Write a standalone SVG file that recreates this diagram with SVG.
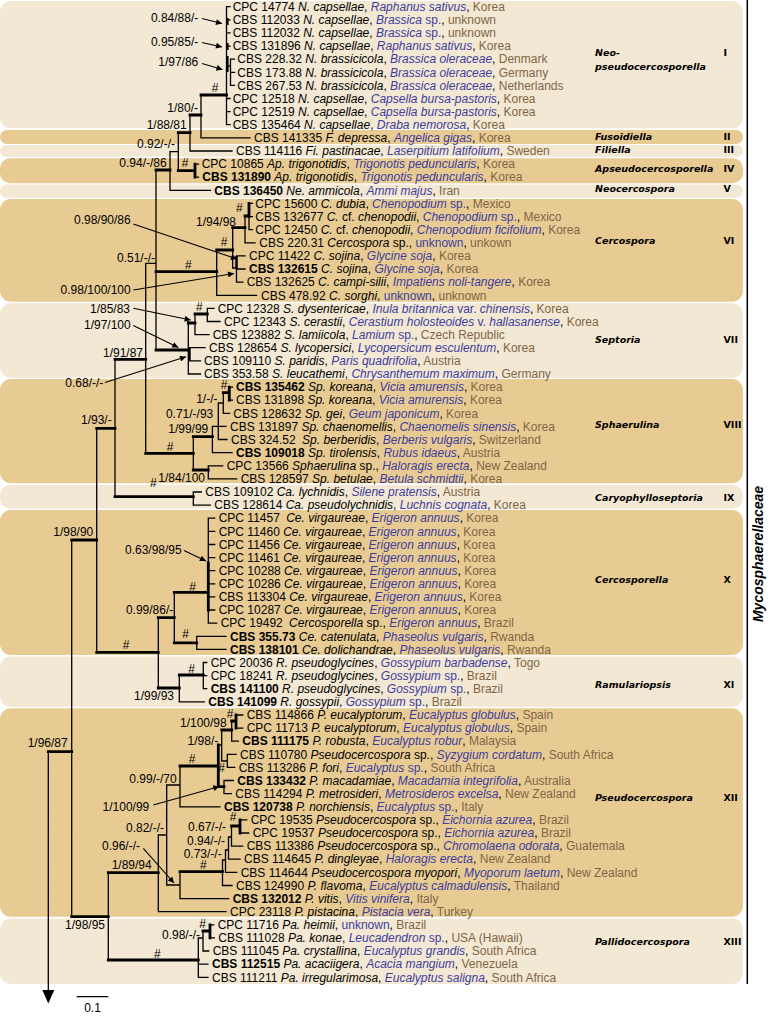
<svg xmlns="http://www.w3.org/2000/svg" width="773" height="1017" viewBox="0 0 773 1017">
<defs>
<style>
.tx{font-family:"Liberation Sans",Arial,sans-serif;font-size:12px;fill:#000}
.i{font-style:italic}
.h{font-style:italic;fill:#3d3d9f}
.hu{fill:#3d3d9f}
.c{fill:#7f6646}
.b{font-weight:bold}
.sp{font-family:"Liberation Sans",Arial,sans-serif;font-size:12px;text-anchor:end;fill:#000}
.hs{text-anchor:middle}
.cl{font-family:"DejaVu Sans",Verdana,sans-serif;font-size:9.5px;font-weight:bold;font-style:italic;fill:#000}
.rn{font-family:"DejaVu Sans",Verdana,sans-serif;font-size:9.5px;font-weight:bold;fill:#000}
.tn{fill:none;stroke:#000;stroke-width:1.3;stroke-linecap:square}
.tk{fill:none;stroke:#000;stroke-width:2.8;stroke-linecap:square}
.ar{fill:none;stroke:#000;stroke-width:1.1;marker-end:url(#ah)}
.lt{fill:#f3e8d3}
.dk{fill:#e8cb93}
</style>
<marker id="ah" viewBox="0 0 10 10" refX="10" refY="5" markerWidth="8" markerHeight="6" markerUnits="userSpaceOnUse" orient="auto"><path d="M0,0 L10,5 L0,10 z" fill="#000"/></marker>
</defs>
<rect width="773" height="1017" fill="#fff"/>
<g id="bands">
<g id="clade-I"><rect class="lt" x="0" y="1" width="743" height="127.3" rx="11"/><text class="cl" x="595" y="56">Neo-</text><text class="cl" x="595" y="70">pseudocercosporella</text><text class="rn" x="723.5" y="56">I</text></g>
<g id="clade-II"><rect class="dk" x="0" y="130" width="743" height="14" rx="7"/><text class="cl" x="595" y="139.5">Fusoidiella</text><text class="rn" x="723.5" y="139.5">II</text></g>
<g id="clade-III"><rect class="lt" x="0" y="145" width="743" height="11.7" rx="5.8"/><text class="cl" x="595" y="152.8">Filiella</text><text class="rn" x="723.5" y="152.8">III</text></g>
<g id="clade-IV"><rect class="dk" x="0" y="158.3" width="743" height="25" rx="10"/><text class="cl" x="595" y="171.8">Apseudocercosporella</text><text class="rn" x="723.5" y="171.8">IV</text></g>
<g id="clade-V"><rect class="lt" x="0" y="184.6" width="743" height="13.2" rx="6.6"/><text class="cl" x="595" y="191.8">Neocercospora</text><text class="rn" x="723.5" y="191.8">V</text></g>
<g id="clade-VI"><rect class="dk" x="0" y="199" width="743" height="102.7" rx="11"/><text class="cl" x="595" y="244.2">Cercospora</text><text class="rn" x="723.5" y="244.2">VI</text></g>
<g id="clade-VII"><rect class="lt" x="0" y="303.3" width="743" height="74.4" rx="11"/><text class="cl" x="595" y="342.8">Septoria</text><text class="rn" x="723.5" y="342.8">VII</text></g>
<g id="clade-VIII"><rect class="dk" x="0" y="379" width="743" height="104.3" rx="11"/><text class="cl" x="595" y="427.5">Sphaerulina</text><text class="rn" x="723.5" y="427.5">VIII</text></g>
<g id="clade-IX"><rect class="lt" x="0" y="485" width="743" height="23.5" rx="10"/><text class="cl" x="595" y="501.2">Caryophylloseptoria</text><text class="rn" x="723.5" y="501.2">IX</text></g>
<g id="clade-X"><rect class="dk" x="0" y="510" width="743" height="145" rx="11"/><text class="cl" x="595" y="582.8">Cercosporella</text><text class="rn" x="723.5" y="582.8">X</text></g>
<g id="clade-XI"><rect class="lt" x="0" y="656.5" width="743" height="50.2" rx="11"/><text class="cl" x="595" y="687.5">Ramulariopsis</text><text class="rn" x="723.5" y="687.5">XI</text></g>
<g id="clade-XII"><rect class="dk" x="0" y="708.3" width="743" height="208.4" rx="11"/><text class="cl" x="595" y="800.8">Pseudocercospora</text><text class="rn" x="723.5" y="800.8">XII</text></g>
<g id="clade-XIII"><rect class="lt" x="0" y="918.5" width="743" height="65.5" rx="11"/><text class="cl" x="595" y="944.5">Pallidocercospora</text><text class="rn" x="723.5" y="944.5">XIII</text></g>
</g>
<g id="family">
<path d="M747.3 0 V984" fill="none" stroke="#000" stroke-width="1.5"/>
<text transform="translate(763,554) rotate(-90)" text-anchor="middle" style="font-family:'Liberation Sans',Arial,sans-serif;font-size:14px;font-weight:bold;font-style:italic">Mycosphaerellaceae</text>
</g>
<g id="connectors">
<path class="tn" d="M226.5 6.7 V124.7 M226.5 6.7 H230 M226.5 19.8 H230 M226.5 32.9 H230 M226.5 46.1 H230 M226.5 98.5 H230 M226.5 111.6 H230 M226.5 124.7 H230 M226.5 66 H230.5 M230.5 59.2 V85.4 M230.5 59.2 H234.5 M230.5 72.3 H234.5 M230.5 85.4 H234.5
M201 137.9 H250 M201 95 V137.9 M190 115 V151 M190 151 H232 M178.3 132.7 V170.6 M170 151.7 V190.3 M170 151.7 H178.3 M170 190.3 H210.5 M195 164.1 H198.5 M195 177.2 H198.5
M156 170 V350 M145.7 263.3 V453.3 M145.7 263.3 H156 M115 359.3 V496.7 M96.7 428.3 V652.3 M71.7 540 V916.7 M48.3 751.7 V991
M216.7 250 V295.3 M216.7 295.3 H256.5 M232.7 227.7 V268 M232.7 268 H236.5 M236.5 255.9 V282.1 M236.5 255.9 H245 M236.5 269 H245 M236.5 282.1 H243 M245 216 V242.8 M245 242.8 H255 M249 203.4 V229.7 M249 203.4 H252.5 M249 216.6 H252.5 M249 229.7 H252.5
M188.3 321.7 V374 M195 314 V334.6 M195 334.6 H209 M207.3 308.4 V321.5 M207.3 308.4 H214 M207.3 321.5 H220 M188.3 347.7 H205 M188.3 360.8 H200.5 M188.3 374 H200.5
M193.3 436.7 V470 M212.4 426.4 V452.6 M212.4 452.6 H232 M218.3 403 V439.5 M212.4 426.4 H226 M218.3 439.5 H227 M223.3 392.7 V413.3 M218.3 403 H223.3 M223.3 413.3 H229.5 M229.3 387.1 H232.5 M229.3 400.2 H232.5 M208.3 465.8 V478.9 M208.3 465.8 H222.7 M208.3 478.9 H236.7
M193.3 492 V505.1 M193.3 492 H201.3 M193.3 505.1 H210.3
M158.3 617.7 V688 M174.3 592.3 V642.9 M208.3 518.2 V623.2 M208.3 518.2 H214.7 M208.3 531.3 H214.7 M208.3 544.5 H214.7 M208.3 557.6 H214.7 M208.3 570.7 H214.7 M208.3 583.8 H214.7 M208.3 596.9 H214.7 M208.3 610 H214.7 M208.3 623.2 H216.7 M196.7 636.3 V649.4 M196.7 636.3 H226 M196.7 649.4 H226
M179.3 675 V701.8 M179.3 701.8 H204.3 M203.3 662.5 V688.7 M203.3 662.5 H206.7 M203.3 675.6 H206.7 M203.3 688.7 H206.7
M108.3 872.7 V960 M158.3 835 V911.7 M158.3 911.7 H226 M158.3 835 H166.7 M166.7 785 V885 M166.7 785 H180 M166.7 885 H180 M180 766 V806.8 M180 806.8 H220
M218.3 745 H221.7 M221.7 730 V761 M221.7 761 H227.3 M231.7 721 V741.2 M231.7 741.2 H238.3 M236 715 H242.7 M236 728.1 H242.7 M227.3 754.3 V767.4 M227.3 754.3 H236 M227.3 767.4 H234.7 M224 780.5 V793.7 M224 780.5 H233.3 M224 793.7 H231.3
M180 871.7 V898.6 M180 898.6 H228.7 M222.5 860 V885.5 M222.5 885.5 H232 M222.5 860 H225.5 M225.5 850 V872.4 M225.5 872.4 H236.7 M225.5 850 H228.5 M228.5 837 V859.2 M228.5 859.2 H240 M228.5 837 H231.5 M231.5 826 V846.1 M231.5 846.1 H242.7 M240 819.9 V833 M240 819.9 H246.7 M240 833 H248.7
M198.3 938 V977.3 M198.3 964.2 H208 M198.3 977.3 H208 M198.3 938 H203 M203 931 V951 M203 951 H208.7 M210 924.8 H213.7 M210 937.9 H214.3"/>
<path class="tk" d="M201 95 H226.5 M190 115 H201 M178.3 132.7 H190 M178.3 170.6 H195 M195 164.1 V177.2 M156 170 H170 M156 271.7 H216.7 M156 350 H188.3 M145.7 453.3 H193.3 M115 359.3 H145.7 M115 496.7 H193.3 M96.7 428.3 H115 M96.7 652.3 H158.3 M71.7 540 H96.7 M71.7 916.7 H108.3 M48.3 751.7 H71.7
M216.7 250 H232.7 M232.7 227.7 H245 M245 216 H249 M249 203.4 V216.6 M188.3 323 H195 M195 314 H207.3 M193.3 436.7 H212.4 M193.3 470 H208.3 M223.3 392.7 H229.3 M229.3 387.1 V400.2
M158.3 617.7 H174.3 M174.3 592.3 H208.3 M208.3 563 V610 M174.3 642.9 H196.7 M158.3 688 H179.3 M179.3 675 H203.3
M108.3 872.7 H158.3 M108.3 960 H198.3 M180 766 H218.3 M218.3 745 V786.7 M221.7 730 H231.7 M231.7 721 H236 M236 715 V728.1 M218.3 786.7 H224 M180 871.7 H222.5 M231.5 826 H240 M240 819.9 V833 M203 931 H210 M210 924.8 V937.9"/>
<path d="M227.4 18 V25 M227.4 43 V50 M227.4 56 V72 M236.5 255.9 V269 M189.5 347.7 V360.8" fill="none" stroke="#000" stroke-width="2.4"/>
<polygon points="42.3,990 54.3,990 48.3,1003.5" fill="#000"/>
<path d="M76.7 996.7 H108.3" fill="none" stroke="#000" stroke-width="1.3"/>
<path class="ar" d="M202 18.5 L222 23.5"/>
<path class="ar" d="M202 42.5 L222 47"/>
<path class="ar" d="M202 63.5 L222.5 69.5"/>
<path class="ar" d="M133.3 224 L237 259"/>
<path class="ar" d="M133.3 290 L234 273.5"/>
<path class="ar" d="M133.3 308.3 L190.7 320"/>
<path class="ar" d="M133.3 325.5 L178.3 347.5"/>
<path class="ar" d="M105 382.5 L186 356.7"/>
<path class="ar" d="M184 550.5 L206 561"/>
<path class="ar" d="M153.3 805 L219.3 786.5"/>
<path class="ar" d="M143.3 848.3 L174 883"/>
</g>
<g id="supports">
<text class="sp" x="198.3" y="21.5">0.84/88/-</text>
<text class="sp" x="198.3" y="45.5">0.95/85/-</text>
<text class="sp" x="198.3" y="66.2">1/97/86</text>
<text class="sp hs" x="215" y="91.5">#</text>
<text class="sp" x="198" y="111.9">1/80/-</text>
<text class="sp" x="186.7" y="129.2">1/88/81</text>
<text class="sp" x="175" y="148.2">0.92/-/-</text>
<text class="sp" x="166.7" y="166.9">0.94/-/86</text>
<text class="sp hs" x="185" y="166.9">#</text>
<text class="sp" x="236" y="225.9">1/94/98</text>
<text class="sp hs" x="239.3" y="211.9">#</text>
<text class="sp hs" x="224" y="245.9">#</text>
<text class="sp hs" x="188.3" y="269.2">#</text>
<text class="sp" x="130.7" y="224.2">0.98/90/86</text>
<text class="sp" x="155" y="261.9">0.51/-/-</text>
<text class="sp" x="130.7" y="294.2">0.98/100/100</text>
<text class="sp" x="130" y="312.5">1/85/83</text>
<text class="sp" x="130.7" y="328.5">1/97/100</text>
<text class="sp hs" x="199.3" y="310.9">#</text>
<text class="sp" x="143" y="356.5">1/91/87</text>
<text class="sp" x="103.3" y="386.9">0.68/-/-</text>
<text class="sp hs" x="224" y="389.2">#</text>
<text class="sp" x="217.5" y="402.5">1/-/-</text>
<text class="sp" x="213.3" y="418.2">0.71/-/93</text>
<text class="sp" x="208.3" y="432.5">1/99/99</text>
<text class="sp hs" x="170" y="450.9">#</text>
<text class="sp" x="205" y="481.9">1/84/100</text>
<text class="sp hs" x="153.3" y="486.9">#</text>
<text class="sp" x="111.7" y="424.2">1/93/-</text>
<text class="sp" x="93.3" y="535.9">1/98/90</text>
<text class="sp" x="181.7" y="553.5">0.63/98/95</text>
<text class="sp hs" x="192.7" y="590.9">#</text>
<text class="sp" x="173.3" y="613.5">0.99/86/-</text>
<text class="sp hs" x="185.7" y="638.2">#</text>
<text class="sp hs" x="126" y="649.2">#</text>
<text class="sp hs" x="191.7" y="672.5">#</text>
<text class="sp" x="174" y="700.2">1/99/93</text>
<text class="sp" x="67.7" y="746.9">1/96/87</text>
<text class="sp" x="226.7" y="726.9">1/100/98</text>
<text class="sp hs" x="230" y="717.5">#</text>
<text class="sp" x="218.3" y="744.9">1/98/-</text>
<text class="sp hs" x="192" y="763.2">#</text>
<text class="sp hs" x="221.7" y="771.5">#</text>
<text class="sp" x="176.7" y="783.2">0.99/-/70</text>
<text class="sp" x="149.3" y="810.9">1/100/99</text>
<text class="sp" x="164" y="831.5">0.82/-/-</text>
<text class="sp hs" x="233" y="820.5">#</text>
<text class="sp" x="226" y="830.9">0.67/-/-</text>
<text class="sp" x="225" y="845.2">0.94/-/-</text>
<text class="sp" x="140" y="849.9">0.96/-/-</text>
<text class="sp" x="221.7" y="857.7">0.73/-/-</text>
<text class="sp" x="151.7" y="869.2">1/89/94</text>
<text class="sp hs" x="203.3" y="869.2">#</text>
<text class="sp" x="105" y="929.2">1/98/95</text>
<text class="sp hs" x="157.3" y="957.5">#</text>
<text class="sp" x="200" y="939.2">0.98/-/-</text>
<text class="sp hs" x="202.7" y="927.5">#</text>
<text class="sp hs" x="92.5" y="1012">0.1</text>
</g>
<g id="taxa">
<g id="taxon-01"><text class="tx" x="232.7" y="10.9">CPC 14774 <tspan class="i">N. capsellae</tspan>, <tspan class="h">Raphanus sativus</tspan>, <tspan class="c">Korea</tspan></text></g>
<g id="taxon-02"><text class="tx" x="232.7" y="24">CBS 112033 <tspan class="i">N. capsellae</tspan>, <tspan class="h">Brassica</tspan><tspan class="hu"> sp.</tspan>, <tspan class="c">unknown</tspan></text></g>
<g id="taxon-03"><text class="tx" x="232.7" y="37.1">CBS 112032 <tspan class="i">N. capsellae</tspan>, <tspan class="h">Brassica</tspan><tspan class="hu"> sp.</tspan>, <tspan class="c">unknown</tspan></text></g>
<g id="taxon-04"><text class="tx" x="232.7" y="50.3">CBS 131896 <tspan class="i">N. capsellae</tspan>, <tspan class="h">Raphanus sativus</tspan>, <tspan class="c">Korea</tspan></text></g>
<g id="taxon-05"><text class="tx" x="237.3" y="63.4">CBS 228.32 <tspan class="i">N. brassicicola</tspan>, <tspan class="h">Brassica oleraceae</tspan>, <tspan class="c">Denmark</tspan></text></g>
<g id="taxon-06"><text class="tx" x="237.3" y="76.5">CBS 173.88 <tspan class="i">N. brassicicola</tspan>, <tspan class="h">Brassica oleraceae</tspan>, <tspan class="c">Germany</tspan></text></g>
<g id="taxon-07"><text class="tx" x="237.3" y="89.6">CBS 267.53 <tspan class="i">N. brassicicola</tspan>, <tspan class="h">Brassica oleraceae</tspan>, <tspan class="c">Netherlands</tspan></text></g>
<g id="taxon-08"><text class="tx" x="232.7" y="102.7">CPC 12518 <tspan class="i">N. capsellae</tspan>, <tspan class="h">Capsella bursa-pastoris</tspan>, <tspan class="c">Korea</tspan></text></g>
<g id="taxon-09"><text class="tx" x="232.7" y="115.8">CPC 12519 <tspan class="i">N. capsellae</tspan>, <tspan class="h">Capsella bursa-pastoris</tspan>, <tspan class="c">Korea</tspan></text></g>
<g id="taxon-10"><text class="tx" x="232.7" y="128.9">CBS 135464 <tspan class="i">N. capsellae</tspan>, <tspan class="h">Draba nemorosa</tspan>, <tspan class="c">Korea</tspan></text></g>
<g id="taxon-11"><text class="tx" x="254" y="142.1">CBS 141335 <tspan class="i">F. depressa</tspan>, <tspan class="h">Angelica gigas</tspan>, <tspan class="c">Korea</tspan></text></g>
<g id="taxon-12"><text class="tx" x="236" y="155.2">CBS 114116 <tspan class="i">Fi. pastinacae</tspan>, <tspan class="h">Laserpitium latifolium</tspan>, <tspan class="c">Sweden</tspan></text></g>
<g id="taxon-13"><text class="tx" x="201.7" y="168.3">CPC 10865 <tspan class="i">Ap. trigonotidis</tspan>, <tspan class="h">Trigonotis peduncularis</tspan>, <tspan class="c">Korea</tspan></text></g>
<g id="taxon-14"><text class="tx" x="202.3" y="181.4"><tspan class="b">CBS 131890</tspan> <tspan class="i">Ap. trigonotidis</tspan>, <tspan class="h">Trigonotis peduncularis</tspan>, <tspan class="c">Korea</tspan></text></g>
<g id="taxon-15"><text class="tx" x="214.3" y="194.5"><tspan class="b">CBS 136450</tspan> <tspan class="i">Ne. ammicola</tspan>, <tspan class="h">Ammi majus</tspan>, <tspan class="c">Iran</tspan></text></g>
<g id="taxon-16"><text class="tx" x="255.3" y="207.6">CPC 15600 <tspan class="i">C. dubia</tspan>, <tspan class="h">Chenopodium</tspan><tspan class="hu"> sp.</tspan>, <tspan class="c">Mexico</tspan></text></g>
<g id="taxon-17"><text class="tx" x="255.3" y="220.8">CBS 132677 <tspan class="i">C.</tspan> cf. <tspan class="i">chenopodii</tspan>, <tspan class="h">Chenopodium</tspan><tspan class="hu"> sp.</tspan>, <tspan class="c">Mexico</tspan></text></g>
<g id="taxon-18"><text class="tx" x="255.3" y="233.9">CPC 12450 <tspan class="i">C.</tspan> cf. <tspan class="i">chenopodii</tspan>, <tspan class="h">Chenopodium ficifolium</tspan>, <tspan class="c">Korea</tspan></text></g>
<g id="taxon-19"><text class="tx" x="259.3" y="247">CBS 220.31 <tspan class="i">Cercospora</tspan> sp., <tspan class="hu">unknown</tspan>, <tspan class="c">unkown</tspan></text></g>
<g id="taxon-20"><text class="tx" x="249" y="260.1">CPC 11422 <tspan class="i">C. sojina</tspan>, <tspan class="h">Glycine soja</tspan>, <tspan class="c">Korea</tspan></text></g>
<g id="taxon-21"><text class="tx" x="249" y="273.2"><tspan class="b">CBS 132615</tspan> <tspan class="i">C. sojina</tspan>, <tspan class="h">Glycine soja</tspan>, <tspan class="c">Korea</tspan></text></g>
<g id="taxon-22"><text class="tx" x="246.7" y="286.3">CBS 132625 <tspan class="i">C. campi-silii</tspan>, <tspan class="h">Impatiens noli-tangere</tspan>, <tspan class="c">Korea</tspan></text></g>
<g id="taxon-23"><text class="tx" x="261" y="299.5">CBS 478.92 <tspan class="i">C. sorghi</tspan>, <tspan class="hu">unknown</tspan>, <tspan class="c">unknown</tspan></text></g>
<g id="taxon-24"><text class="tx" x="217.7" y="312.6">CPC 12328 <tspan class="i">S. dysentericae</tspan>, <tspan class="h">Inula britannica</tspan><tspan class="hu"> var. </tspan><tspan class="h">chinensis</tspan>, <tspan class="c">Korea</tspan></text></g>
<g id="taxon-25"><text class="tx" x="224" y="325.7">CPC 12343 <tspan class="i">S. cerastii</tspan>, <tspan class="h">Cerastium holosteoides</tspan><tspan class="hu"> v. </tspan><tspan class="h">hallasanense</tspan>, <tspan class="c">Korea</tspan></text></g>
<g id="taxon-26"><text class="tx" x="212.7" y="338.8">CBS 123882 <tspan class="i">S. lamiicola</tspan>, <tspan class="h">Lamium</tspan><tspan class="hu"> sp.</tspan>, <tspan class="c">Czech Republic</tspan></text></g>
<g id="taxon-27"><text class="tx" x="209" y="351.9">CBS 128654 <tspan class="i">S. lycopersici</tspan>, <tspan class="h">Lycopersicum esculentum</tspan>, <tspan class="c">Korea</tspan></text></g>
<g id="taxon-28"><text class="tx" x="204" y="365">CBS 109110 <tspan class="i">S. paridis</tspan>, <tspan class="h">Paris quadrifolia</tspan>, <tspan class="c">Austria</tspan></text></g>
<g id="taxon-29"><text class="tx" x="204" y="378.2">CBS 353.58 <tspan class="i">S. leucathemi</tspan>, <tspan class="h">Chrysanthemum maximum</tspan>, <tspan class="c">Germany</tspan></text></g>
<g id="taxon-30"><text class="tx" x="236" y="391.3"><tspan class="b">CBS 135462</tspan> <tspan class="i">Sp. koreana</tspan>, <tspan class="h">Vicia amurensis</tspan>, <tspan class="c">Korea</tspan></text></g>
<g id="taxon-31"><text class="tx" x="236" y="404.4">CBS 131898 <tspan class="i">Sp. koreana</tspan>, <tspan class="h">Vicia amurensis</tspan>, <tspan class="c">Korea</tspan></text></g>
<g id="taxon-32"><text class="tx" x="233.3" y="417.5">CBS 128632 <tspan class="i">Sp. gei</tspan>, <tspan class="h">Geum japonicum</tspan>, <tspan class="c">Korea</tspan></text></g>
<g id="taxon-33"><text class="tx" x="230" y="430.6">CBS 131897 <tspan class="i">Sp. chaenomellis</tspan>, <tspan class="h">Chaenomelis sinensis</tspan>, <tspan class="c">Korea</tspan></text></g>
<g id="taxon-34"><text class="tx" x="231" y="443.7">CBS 324.52 <tspan class="i" dx="3">Sp. berberidis</tspan>, <tspan class="h">Berberis vulgaris</tspan>, <tspan class="c">Switzerland</tspan></text></g>
<g id="taxon-35"><text class="tx" x="236" y="456.8"><tspan class="b">CBS 109018</tspan> <tspan class="i">Sp. tirolensis</tspan>, <tspan class="h">Rubus idaeus</tspan>, <tspan class="c">Austria</tspan></text></g>
<g id="taxon-36"><text class="tx" x="226.7" y="470">CPC 13566 <tspan class="i">Sphaerulina</tspan> sp., <tspan class="h">Haloragis erecta</tspan>, <tspan class="c">New Zealand</tspan></text></g>
<g id="taxon-37"><text class="tx" x="240.7" y="483.1">CBS 128597 <tspan class="i">Sp. betulae</tspan>, <tspan class="h">Betula schmidtii</tspan>, <tspan class="c">Korea</tspan></text></g>
<g id="taxon-38"><text class="tx" x="205.3" y="496.2">CBS 109102 <tspan class="i">Ca. lychnidis</tspan>, <tspan class="h">Silene pratensis</tspan>, <tspan class="c">Austria</tspan></text></g>
<g id="taxon-39"><text class="tx" x="214.3" y="509.3">CBS 128614 <tspan class="i">Ca. pseudolychnidis</tspan>, <tspan class="h">Luchnis cognata</tspan>, <tspan class="c">Korea</tspan></text></g>
<g id="taxon-40"><text class="tx" x="218.7" y="522.4">CPC 11457 <tspan class="i" dx="3">Ce. virgaureae</tspan>, <tspan class="h">Erigeron annuus</tspan>, <tspan class="c">Korea</tspan></text></g>
<g id="taxon-41"><text class="tx" x="218.7" y="535.5">CPC 11460 <tspan class="i">Ce. virgaureae</tspan>, <tspan class="h">Erigeron annuus</tspan>, <tspan class="c">Korea</tspan></text></g>
<g id="taxon-42"><text class="tx" x="218.7" y="548.7">CPC 11456 <tspan class="i">Ce. virgaureae</tspan>, <tspan class="h">Erigeron annuus</tspan>, <tspan class="c">Korea</tspan></text></g>
<g id="taxon-43"><text class="tx" x="218.7" y="561.8">CPC 11461 <tspan class="i">Ce. virgaureae</tspan>, <tspan class="h">Erigeron annuus</tspan>, <tspan class="c">Korea</tspan></text></g>
<g id="taxon-44"><text class="tx" x="218.7" y="574.9">CPC 10288 <tspan class="i">Ce. virgaureae</tspan>, <tspan class="h">Erigeron annuus</tspan>, <tspan class="c">Korea</tspan></text></g>
<g id="taxon-45"><text class="tx" x="218.7" y="588">CPC 10286 <tspan class="i">Ce. virgaureae</tspan>, <tspan class="h">Erigeron annuus</tspan>, <tspan class="c">Korea</tspan></text></g>
<g id="taxon-46"><text class="tx" x="218.7" y="601.1">CBS 113304 <tspan class="i">Ce. virgaureae</tspan>, <tspan class="h">Erigeron annuus</tspan>, <tspan class="c">Korea</tspan></text></g>
<g id="taxon-47"><text class="tx" x="218.7" y="614.2">CPC 10287 <tspan class="i">Ce. virgaureae</tspan>, <tspan class="h">Erigeron annuus</tspan>, <tspan class="c">Korea</tspan></text></g>
<g id="taxon-48"><text class="tx" x="220.7" y="627.4">CPC 19492 <tspan class="i" dx="3">Cercosporella</tspan> sp., <tspan class="h">Erigeron annuus</tspan>, <tspan class="c">Brazil</tspan></text></g>
<g id="taxon-49"><text class="tx" x="230" y="640.5"><tspan class="b">CBS 355.73</tspan> <tspan class="i">Ce. catenulata</tspan>, <tspan class="h">Phaseolus vulgaris</tspan>, <tspan class="c">Rwanda</tspan></text></g>
<g id="taxon-50"><text class="tx" x="230" y="653.6"><tspan class="b">CBS 138101</tspan> <tspan class="i">Ce. dolichandrae</tspan>, <tspan class="h">Phaseolus vulgaris</tspan>, <tspan class="c">Rwanda</tspan></text></g>
<g id="taxon-51"><text class="tx" x="210.7" y="666.7">CPC 20036 <tspan class="i">R. pseudoglycines</tspan>, <tspan class="h">Gossypium barbadense</tspan>, <tspan class="c">Togo</tspan></text></g>
<g id="taxon-52"><text class="tx" x="210.7" y="679.8">CPC 18241 <tspan class="i">R. pseudoglycines</tspan>, <tspan class="h">Gossypium</tspan><tspan class="hu"> sp.</tspan>, <tspan class="c">Brazil</tspan></text></g>
<g id="taxon-53"><text class="tx" x="210.7" y="692.9"><tspan class="b">CBS 141100</tspan> <tspan class="i">R. pseudoglycines</tspan>, <tspan class="h">Gossypium</tspan><tspan class="hu"> sp.</tspan>, <tspan class="c">Brazil</tspan></text></g>
<g id="taxon-54"><text class="tx" x="208.3" y="706"><tspan class="b">CBS 141099</tspan> <tspan class="i">R. gossypii</tspan>, <tspan class="h">Gossypium</tspan><tspan class="hu"> sp.</tspan>, <tspan class="c">Brazil</tspan></text></g>
<g id="taxon-55"><text class="tx" x="246.7" y="719.2">CBS 114866 <tspan class="i">P. eucalyptorum</tspan>, <tspan class="h">Eucalyptus globulus</tspan>, <tspan class="c">Spain</tspan></text></g>
<g id="taxon-56"><text class="tx" x="246.7" y="732.3">CPC 11713 <tspan class="i">P. eucalyptorum</tspan>, <tspan class="h">Eucalyptus globulus</tspan>, <tspan class="c">Spain</tspan></text></g>
<g id="taxon-57"><text class="tx" x="242.3" y="745.4"><tspan class="b">CBS 111175</tspan> <tspan class="i">P. robusta</tspan>, <tspan class="h">Eucalyptus robur</tspan>, <tspan class="c">Malaysia</tspan></text></g>
<g id="taxon-58"><text class="tx" x="240" y="758.5">CBS 110780 <tspan class="i">Pseudocercospora</tspan> sp., <tspan class="h">Syzygium cordatum</tspan>, <tspan class="c">South Africa</tspan></text></g>
<g id="taxon-59"><text class="tx" x="238.7" y="771.6">CBS 113286 <tspan class="i">P. fori</tspan>, <tspan class="h">Eucalyptus</tspan><tspan class="hu"> sp.</tspan>, <tspan class="c">South Africa</tspan></text></g>
<g id="taxon-60"><text class="tx" x="237.3" y="784.7"><tspan class="b">CBS 133432</tspan> <tspan class="i">P. macadamiae</tspan>, <tspan class="h">Macadamia integrifolia</tspan>, <tspan class="c">Australia</tspan></text></g>
<g id="taxon-61"><text class="tx" x="235.3" y="797.9">CBS 114294 <tspan class="i">P. metrosideri</tspan>, <tspan class="h">Metrosideros excelsa</tspan>, <tspan class="c">New Zealand</tspan></text></g>
<g id="taxon-62"><text class="tx" x="224" y="811"><tspan class="b">CBS 120738</tspan> <tspan class="i">P. norchiensis</tspan>, <tspan class="h">Eucalyptus</tspan><tspan class="hu"> sp.</tspan>, <tspan class="c">Italy</tspan></text></g>
<g id="taxon-63"><text class="tx" x="250.7" y="824.1">CPC 19535 <tspan class="i">Pseudocercospora</tspan> sp., <tspan class="h">Eichornia azurea</tspan>, <tspan class="c">Brazil</tspan></text></g>
<g id="taxon-64"><text class="tx" x="252.7" y="837.2">CPC 19537 <tspan class="i">Pseudocercospora</tspan> sp., <tspan class="h">Eichornia azurea</tspan>, <tspan class="c">Brazil</tspan></text></g>
<g id="taxon-65"><text class="tx" x="246.7" y="850.3">CBS 113386 <tspan class="i">Pseudocercospora</tspan> sp., <tspan class="h">Chromolaena odorata</tspan>, <tspan class="c">Guatemala</tspan></text></g>
<g id="taxon-66"><text class="tx" x="244" y="863.4">CBS 114645 <tspan class="i">P. dingleyae</tspan>, <tspan class="h">Haloragis erecta</tspan>, <tspan class="c">New Zealand</tspan></text></g>
<g id="taxon-67"><text class="tx" x="240.7" y="876.6">CBS 114644 <tspan class="i">Pseudocercospora myopori</tspan>, <tspan class="h">Myoporum laetum</tspan>, <tspan class="c">New Zealand</tspan></text></g>
<g id="taxon-68"><text class="tx" x="236" y="889.7">CBS 124990 <tspan class="i">P. flavoma</tspan>, <tspan class="h">Eucalyptus calmadulensis</tspan>, <tspan class="c">Thailand</tspan></text></g>
<g id="taxon-69"><text class="tx" x="232.7" y="902.8"><tspan class="b">CBS 132012</tspan> <tspan class="i">P. vitis</tspan>, <tspan class="h">Vitis vinifera</tspan>, <tspan class="c">Italy</tspan></text></g>
<g id="taxon-70"><text class="tx" x="230" y="915.9">CPC 23118 <tspan class="i">P. pistacina</tspan>, <tspan class="h">Pistacia vera</tspan>, <tspan class="c">Turkey</tspan></text></g>
<g id="taxon-71"><text class="tx" x="217.7" y="929">CPC 11716 <tspan class="i">Pa. heimii</tspan>, <tspan class="hu">unknown</tspan>, <tspan class="c">Brazil</tspan></text></g>
<g id="taxon-72"><text class="tx" x="218.3" y="942.1">CBS 111028 <tspan class="i">Pa. konae</tspan>, <tspan class="h">Leucadendron</tspan><tspan class="hu"> sp.</tspan>, <tspan class="c">USA (Hawaii)</tspan></text></g>
<g id="taxon-73"><text class="tx" x="212.7" y="955.2">CBS 111045 <tspan class="i">Pa. crystallina</tspan>, <tspan class="h">Eucalyptus grandis</tspan>, <tspan class="c">South Africa</tspan></text></g>
<g id="taxon-74"><text class="tx" x="212" y="968.4"><tspan class="b">CBS 112515</tspan> <tspan class="i">Pa. acaciigera</tspan>, <tspan class="h">Acacia mangium</tspan>, <tspan class="c">Venezuela</tspan></text></g>
<g id="taxon-75"><text class="tx" x="212" y="981.5">CBS 111211 <tspan class="i">Pa. irregularimosa</tspan>, <tspan class="h">Eucalyptus saligna</tspan>, <tspan class="c">South Africa</tspan></text></g>
</g>
</svg>
